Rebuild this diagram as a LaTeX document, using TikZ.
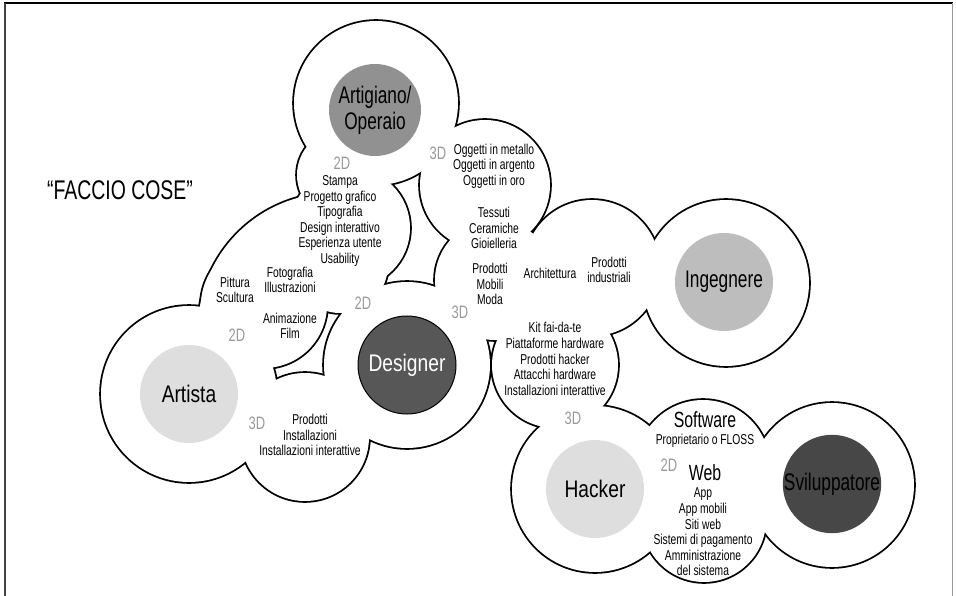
\documentclass[tikz,border=0pt]{standalone}
\usepackage{fontspec}
\setmainfont[FakeStretch=0.72]{Liberation Sans}
\newfontfamily\rolewide[FakeStretch=0.8]{Liberation Sans}
\usetikzlibrary{positioning}
\newcommand{\lobes}{376/103/82, 343/175/46, 485/185/65, 350/228/60, 340/265/48, 264/305/63, 495/280/60, 592/268/68, 555/365/63, 726/283/83, 407/365/83, 189/394/88, 305/437/64, 595/489/83, 703/467/67, 704/520/62, 832/485/82}

\begin{document}
\begin{tikzpicture}[x=1pt, y=-1pt,
    ring/.style={line width=3.6pt},
    role/.style={circle, minimum size=98pt, inner sep=0pt, align=center,
      font=\fontsize{24}{26}\selectfont},
    wide/.style={font=\rolewide\fontsize{24}{26}\selectfont},
    items/.style={align=center, inner sep=0pt, font=\fontsize{14.3}{15.6}\selectfont},
    dim/.style={inner sep=0pt, text=black!40, font=\fontsize{18}{18}\selectfont},
    head/.style={inner sep=0pt, font=\fontsize{22}{22}\selectfont}]
  \useasboundingbox (0,0) rectangle (956,596);
  \draw[line width=2.5pt] (4,3) -- (953,3);
  \draw[black!75, line width=1.4pt] (5,3) -- (5,596);
  \draw[black!40] (952,3) -- (952,596);
  \foreach \x/\y/\r in \lobes
    \draw[ring] (\x,\y) circle[radius=\r pt];
  \begin{scope}
    \clip (150,150) rectangle (312,330);
    \draw[ring] (334,329) circle[radius=136pt];
  \end{scope}
  \foreach \x/\y/\r in \lobes
    \fill[white] (\x,\y) circle[radius=\r pt];
  \begin{scope}
    \clip (150,150) rectangle (312,330);
    \fill[white] (334,329) circle[radius=136pt];
  \end{scope}

  \node[role, fill=black!43, minimum size=92pt] (artigiano) at (375,110) {Artigiano/\\Operaio};
  \node[role, wide, fill=black!66, draw, line width=1pt, text=white] (designer) at (407,365) {Designer};
  \node[role, wide, fill=black!13] (artista) at (189,394) {Artista};
  \node[role, fill=black!26] (ingegnere) at (724,282) {Ingegnere};
  \node[role, wide, fill=black!13] (hacker) at (595,489) {Hacker};
  \node[role, fill=black!72] (sviluppatore) at (832,484) {Sviluppatore};

  \node[inner sep=0pt, font=\fontsize{27}{27}\selectfont] (motto) at (120,190) {“FACCIO COSE”};

  \node[dim] (d2a) at (342,163) {2D};
  \node[dim] (d3a) at (438,153) {3D};
  \node[dim] (d2b) at (363,303) {2D};
  \node[dim] (d2c) at (237,335) {2D};
  \node[dim] (d3b) at (460,312) {3D};
  \node[dim] (d3c) at (257,423) {3D};
  \node[dim] (d3d) at (573,418) {3D};
  \node[dim] (d2d) at (669,465) {2D};

  \node[items] (stampa) at (340,221) {Stampa\\Progetto grafico\\Tipografia\\Design interattivo\\Esperienza utente\\Usability};
  \node[items] (oggetti) at (494,166) {Oggetti in metallo\\Oggetti in argento\\Oggetti in oro};
  \node[items, on grid, below=62pt of oggetti] (tessuti) {Tessuti\\Ceramiche\\Gioielleria};
  \node[items, on grid, below=56pt of tessuti, xshift=-4pt] (mobili) {Prodotti\\Mobili\\Moda};
  \node[items] (archi) at (550,273) {Architettura};
  \node[items] (industria) at (609,270) {Prodotti\\industriali};
  \node[items] (pittura) at (235,290) {Pittura\\Scultura};
  \node[items] (foto) at (290,280) {Fotografia\\Illustrazioni};
  \node[items, on grid, below=46pt of foto] (anim) {Animazione\\Film};
  \node[items] (install) at (310,435) {Prodotti\\Installazioni\\Installazioni interattive};
  \node[items] (kit) at (555,359) {Kit fai-da-te\\Piattaforme hardware\\Prodotti hacker\\Attacchi hardware\\Installazioni interattive};
  \node[head] (software) at (705,420) {Software};
  \node[items, on grid, below=21pt of software] (floss) {Proprietario o FLOSS};
  \node[head] (web) at (705,473) {Web};
  \node[items, on grid, below=59pt of web, xshift=-2pt] (weblist) {App\\App mobili\\Siti web\\Sistemi di pagamento\\Amministrazione\\del sistema};
\end{tikzpicture}
\end{document}
